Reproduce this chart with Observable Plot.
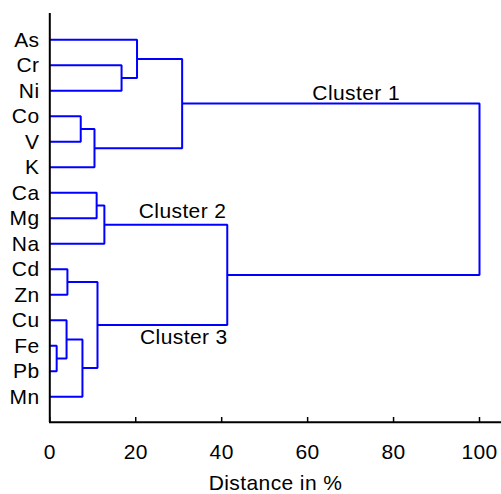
<!DOCTYPE html>
<html><head><meta charset="utf-8">
<script src="https://cdn.jsdelivr.net/npm/d3@7"></script>
<script src="https://cdn.jsdelivr.net/npm/@observablehq/plot@0.6"></script>
<style>body{margin:0;background:#fff}</style>
</head><body><div id="chart"></div>
<script>
// Leaf order (top to bottom)
const leaves = ["As","Cr","Ni","Co","V","K","Ca","Mg","Na","Cd","Zn","Cu","Fe","Pb","Mn"];
// Merge steps: children are leaf names or earlier merges "m<i>"; heights = distance in %
const mergeLeft   = ["Cr","As","Co","m2","m1","Ca","m5","Cd","Fe","Cu","m9","m7","m6","m4"];
const mergeRight  = ["Ni","m0","V","K","m3","Mg","Na","Zn","Pb","m8","Mn","m10","m11","m12"];
const mergeHeight = [16.7,20.3,7.2,10.4,30.8,10.9,12.7,4.1,1.6,3.9,7.6,11.1,41.3,100];
const xTicks = [0,20,40,60,80,100];
const clusterNames = ["Cluster 1","Cluster 2","Cluster 3"];
const clusterNodes = ["m4","m6","m11"];
const clusterLabelX = [71.3,30.9,31.2];
const axisTitle = "Distance in %";

// Build dendrogram geometry from the data
const pos = {};
leaves.forEach((n,i)=>{pos[n]={x:0,y:i};});
const paths = [];
mergeHeight.forEach((h,i)=>{
  const a = pos[mergeLeft[i]], b = pos[mergeRight[i]], id = "m"+i;
  paths.push({id,x:a.x,y:a.y},{id,x:h,y:a.y},{id,x:h,y:b.y},{id,x:b.x,y:b.y});
  pos[id] = {x:h,y:(a.y+b.y)/2};
});
const labels = clusterNames.map((name,i)=>({name, x:clusterLabelX[i], y:pos[clusterNodes[i]].y}));
const labelDy = [-10,-13,12];

const FS = 21;
const W=501,H=494,mT=13,mB=72;
const chart = Plot.plot({
  width:W, height:H,
  marginLeft:49, marginRight:0, marginTop:mT, marginBottom:mB,
  x:{domain:[0,100], range:[49.3,479]},
  y:{domain:[0,leaves.length-1], range:[39.3,396.3]},
  style:{fontFamily:"'Liberation Sans', Arial, Helvetica, sans-serif", fontSize:FS+"px", letterSpacing:"0.4px", background:"#fff", color:"#000"},
  marks:[
    Plot.line(paths,{x:"x",y:"y",z:"id",stroke:"#0000ff",strokeWidth:2,strokeLinejoin:"miter",strokeLinecap:"butt"}),
    Plot.ruleX([0],{stroke:"#000",strokeWidth:2}),
    Plot.ruleY([leaves.length],{stroke:"#000",strokeWidth:2}),
    Plot.ruleX(xTicks,{x:d=>d,stroke:"#000",strokeWidth:1.5,insetTop:(H-mT-mB)-5}),
    Plot.axisX({ticks:xTicks, tickSize:0, tickPadding:22, label:null, fontSize:FS}),
    Plot.axisY({ticks:d3.range(leaves.length), tickFormat:i=>leaves[i], tickSize:0, tickPadding:10, label:null, fontSize:FS}),
    Plot.text([axisTitle],{frameAnchor:"bottom", text:d=>d, lineAnchor:"middle", dy:61, fill:"#000", fontSize:FS}),
    ...labels.map((d,i)=>Plot.text([d],{x:"x",y:"y",text:"name",lineAnchor:"middle",dy:labelDy[i],fill:"#000",fontSize:FS}))
  ]
});
document.getElementById("chart").appendChild(chart);
</script>
</body></html>
